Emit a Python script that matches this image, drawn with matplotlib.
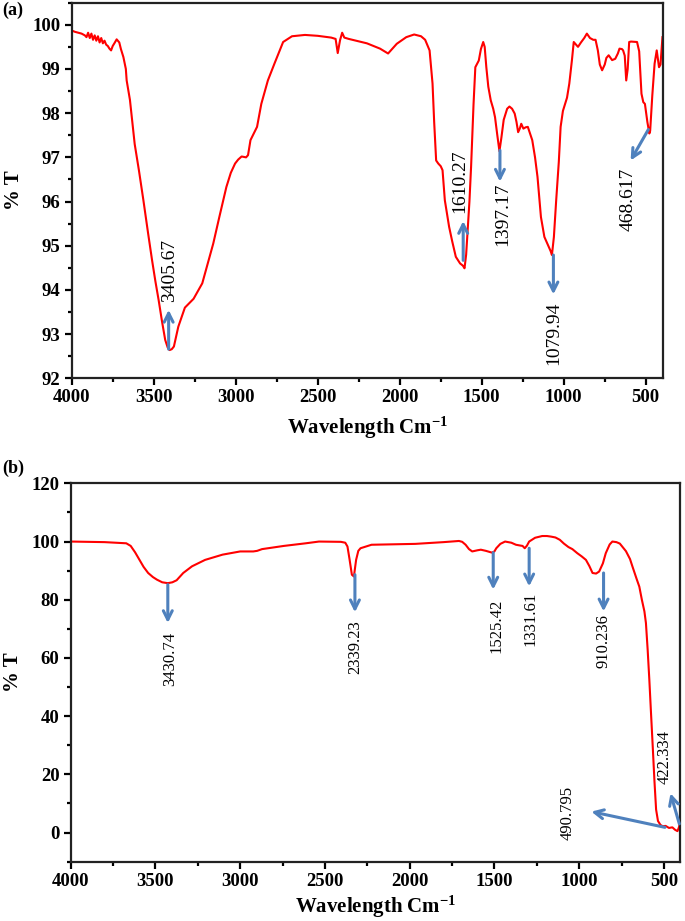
import matplotlib
matplotlib.use("Agg")
import matplotlib.pyplot as plt
from matplotlib.ticker import MultipleLocator

plt.rcParams['font.family'] = ['Liberation Serif', 'DejaVu Serif']
plt.rcParams['mathtext.default'] = 'regular'

# ---------------- data: panel (a) ----------------
wn_a = [4000, 3980, 3960, 3940, 3920, 3910, 3900, 3890, 3880, 3870, 3860, 3850, 3840, 3830, 3820,
        3810, 3800, 3790, 3780, 3770, 3760, 3750, 3740, 3726, 3710, 3700, 3685, 3670, 3665, 3645,
        3616, 3590, 3563, 3535, 3510, 3490, 3470, 3450, 3430, 3415, 3403, 3390, 3377, 3350, 3310,
        3257, 3204, 3137, 3100, 3057, 3030, 3004, 2985, 2964, 2937, 2925, 2910, 2870, 2844, 2804,
        2764, 2711, 2657, 2578, 2500, 2418, 2391, 2378, 2364, 2351, 2338, 2311, 2200, 2120, 2071,
        2018, 1960, 1912, 1870, 1845, 1818, 1800, 1790, 1778, 1765, 1750, 1739, 1725, 1699, 1680,
        1658, 1632, 1615, 1605, 1595, 1587, 1575, 1565, 1550, 1539, 1518, 1505, 1491, 1482, 1472,
        1460, 1445, 1430, 1419, 1405, 1392, 1380, 1366, 1345, 1331, 1315, 1299, 1288, 1278, 1268,
        1259, 1246, 1232, 1219, 1192, 1175, 1160, 1139, 1118, 1100, 1091, 1080, 1072, 1060, 1046,
        1030, 1019, 1005, 992, 980, 966, 950, 939, 925, 913, 895, 875, 859, 840, 820, 806, 792,
        780, 766, 750, 740, 726, 705, 686, 670, 660, 645, 638, 628, 619, 610, 601, 590, 553, 540,
        526, 515, 505, 490, 478, 473, 460, 446, 433, 419, 410, 398]
T_a = [99.87, 99.84, 99.82, 99.80, 99.76, 99.72, 99.82, 99.70, 99.80, 99.66, 99.76, 99.64, 99.74, 99.60, 99.70,
       99.58, 99.64, 99.55, 99.52, 99.46, 99.42, 99.52, 99.58, 99.67, 99.60, 99.45, 99.27, 99.0, 98.74, 98.3,
       97.3, 96.7, 96.03, 95.3, 94.67, 94.2, 93.77, 93.3, 92.87, 92.7, 92.64, 92.66, 92.72, 93.17, 93.6,
       93.8, 94.15, 95.05, 95.65, 96.33, 96.65, 96.86, 96.95, 97.02, 97.0, 97.05, 97.39, 97.69, 98.21, 98.74,
       99.12, 99.61, 99.74, 99.77, 99.75, 99.71, 99.68, 99.36, 99.65, 99.82, 99.71, 99.68, 99.58, 99.46, 99.35,
       99.57, 99.72, 99.78, 99.74, 99.66, 99.42, 98.67, 97.8, 96.93, 96.86, 96.80, 96.71, 96.03, 95.43, 95.1,
       94.75, 94.6, 94.55, 94.49, 94.8, 95.28, 96.0, 96.78, 98.2, 99.04, 99.19, 99.45, 99.61, 99.5, 99.04,
       98.6, 98.29, 98.1, 97.91, 97.5, 97.14, 97.45, 97.85, 98.1, 98.15, 98.1, 97.99, 97.8, 97.57, 97.65,
       97.76, 97.65, 97.68, 97.69, 97.39, 97.0, 96.56, 95.65, 95.2, 95.05, 94.98, 94.88, 94.79, 95.2, 96.03,
       96.9, 97.69, 98.05, 98.21, 98.35, 98.67, 99.2, 99.61, 99.55, 99.5, 99.6, 99.7, 99.8, 99.7, 99.66, 99.66, 99.42,
       99.1, 98.97, 99.1, 99.25, 99.31, 99.2, 99.23, 99.35, 99.46, 99.45, 99.42, 99.3, 98.74, 99.0, 99.61, 99.62, 99.61, 99.4,
       98.44, 98.25, 98.21, 97.8, 97.54, 97.6, 98.4, 99.12, 99.42, 99.04, 99.1, 99.72]

peaks_a = ['3405.67', '1610.27', '1397.17', '1079.94', '468.617']
text_x_a = [3405, 1633, 1374, 1059, 606]
text_y_a = [94.45, 96.45, 95.71, 93.03, 96.05]
arr_tail_a = [(3409, 92.66), (1613, 94.67), (1389, 97.16), (1063, 94.79), (484, 97.63)]
arr_head_a = [(3409, 93.55), (1613, 95.56), (1389, 96.45), (1063, 93.90), (592, 96.93)]

# ---------------- data: panel (b) ----------------
wn_b = [4000, 3800, 3672, 3646, 3620, 3594, 3570, 3543, 3515, 3491, 3460, 3427, 3400, 3375, 3336,
        3284, 3207, 3104, 3000, 2923, 2900, 2871, 2742, 2613, 2535, 2406, 2380, 2367, 2355, 2341,
        2329, 2316, 2303, 2290, 2225, 1967, 1800, 1709, 1690, 1670, 1650, 1631, 1600, 1580, 1550,
        1515, 1500, 1489, 1465, 1437, 1400, 1373, 1345, 1334, 1321, 1308, 1295, 1260, 1218, 1190,
        1166, 1140, 1114, 1090, 1063, 1040, 1011, 985, 960, 940, 921, 900, 882, 860, 843, 820,
        804, 780, 760, 724, 700, 686, 660, 645, 630, 615, 606, 596, 586, 576, 566, 556, 546, 535,
        520, 507, 490, 470, 450, 435, 420, 410, 405]
T_b = [100.0, 99.8, 99.4, 98.5, 96.3, 93.7, 91.3, 89.2, 87.8, 86.9, 86.0, 85.7, 86.0, 86.7, 89.2,
       91.5, 93.7, 95.5, 96.6, 96.6, 96.8, 97.4, 98.5, 99.4, 100.0, 99.9, 99.6, 98.3, 94.0, 88.6,
       88.0, 93.7, 96.8, 97.7, 98.9, 99.2, 99.8, 100.2, 99.9, 98.9, 97.4, 96.6, 97.0, 97.2, 96.8,
       96.2, 96.6, 97.7, 99.2, 100.0, 99.6, 98.9, 98.6, 98.5, 97.7, 98.6, 100.0, 101.3, 101.9, 101.9,
       101.7, 101.4, 100.6, 99.3, 98.1, 97.4, 96.0, 94.9, 93.7, 91.6, 89.2, 89.0, 89.7, 92.5, 96.0, 99.0,
       100.0, 99.8, 99.3, 96.7, 94.0, 91.5, 87.0, 84.5, 80.0, 76.0, 72.0, 63.0, 52.6, 41.0, 29.7, 18.0, 7.9, 4.0,
       2.6, 2.2, 2.3, 1.6, 1.8, 1.0, 0.5, 2.0, 4.0]

peaks_b = ['3430.74', '2339.23', '1525.42', '1331.61', '910.236', '490.795', '422.334']
text_x_b = [3414, 2323, 1489, 1290, 856, 1070, 494]
text_y_b = [59.5, 63.6, 70.9, 73.6, 65.9, 6.7, 25.8]
arr_tail_b = [(3427, 85.2), (2323, 88.6), (1507, 96.2), (1295, 97.7), (856, 89.2), (494, 1.8), (409, 3.0)]
arr_head_b = [(3427, 72.0), (2323, 75.7), (1507, 83.5), (1295, 84.6), (856, 76.0), (928, 7.2), (461, 13.5)]

RED = '#ff0000'
BLUE = '#4f81bd'

fig = plt.figure(figsize=(6.85, 9.21), dpi=100)
ax1 = fig.add_axes([0.1047, 0.5892, 0.9683 - 0.1047, 0.9971 - 0.5892])
ax2 = fig.add_axes([0.1032, 0.0644, 0.9927 - 0.1032, 0.4752 - 0.0644])


def style(ax, xpad):
    for s in ax.spines.values():
        s.set_linewidth(1.6)
        s.set_color('#222222')
    ax.tick_params(which='major', direction='out', length=5, width=1.6, pad=3,
                   labelsize=13.5, top=False, right=False)
    ax.tick_params(which='minor', direction='out', length=3, width=1.6, top=False, right=False)
    for lab in ax.get_xticklabels() + ax.get_yticklabels():
        lab.set_fontweight('bold')
    ax.set_xlabel('Wavelength Cm$^{-1}$', fontsize=15, fontweight='bold', labelpad=xpad)
    ax.set_ylabel('% T', fontsize=15, fontweight='bold', labelpad=6)


# panel (a)
ax1.plot(wn_a, T_a, color=RED, lw=1.5)
ax1.set_xlim(4000, 393)
ax1.set_ylim(92, 100.5)
ax1.xaxis.set_major_locator(MultipleLocator(500))
ax1.xaxis.set_minor_locator(MultipleLocator(250))
ax1.yaxis.set_major_locator(MultipleLocator(1))
ax1.yaxis.set_minor_locator(MultipleLocator(0.5))
style(ax1, 6)
for lab, tx, ty, tail, head in zip(peaks_a, text_x_a, text_y_a, arr_tail_a, arr_head_a):
    ax1.annotate('', xy=head, xytext=tail,
                 arrowprops=dict(arrowstyle='->', color=BLUE, lw=2.2, mutation_scale=16,
                                 shrinkA=0, shrinkB=0))
    ax1.text(tx, ty, lab, rotation=90, fontsize=14, ha='center', va='center')

# panel (b)
ax2.plot(wn_b, T_b, color=RED, lw=1.5)
ax2.set_xlim(4000, 405)
ax2.set_ylim(-10, 120)
ax2.xaxis.set_major_locator(MultipleLocator(500))
ax2.xaxis.set_minor_locator(MultipleLocator(250))
ax2.yaxis.set_major_locator(MultipleLocator(20))
ax2.yaxis.set_minor_locator(MultipleLocator(10))
style(ax2, 3)
for lab, tx, ty, tail, head in zip(peaks_b, text_x_b, text_y_b, arr_tail_b, arr_head_b):
    ax2.annotate('', xy=head, xytext=tail,
                 arrowprops=dict(arrowstyle='->', color=BLUE, lw=2.2, mutation_scale=16,
                                 shrinkA=0, shrinkB=0))
    ax2.text(tx, ty, lab, rotation=90, fontsize=12, ha='center', va='center')

fig.text(0.003, 0.9985, '(a)', fontsize=13, fontweight='bold', ha='left', va='top')
fig.text(0.003, 0.5005, '(b)', fontsize=13, fontweight='bold', ha='left', va='top')

fig.savefig('out.png', dpi=100)
